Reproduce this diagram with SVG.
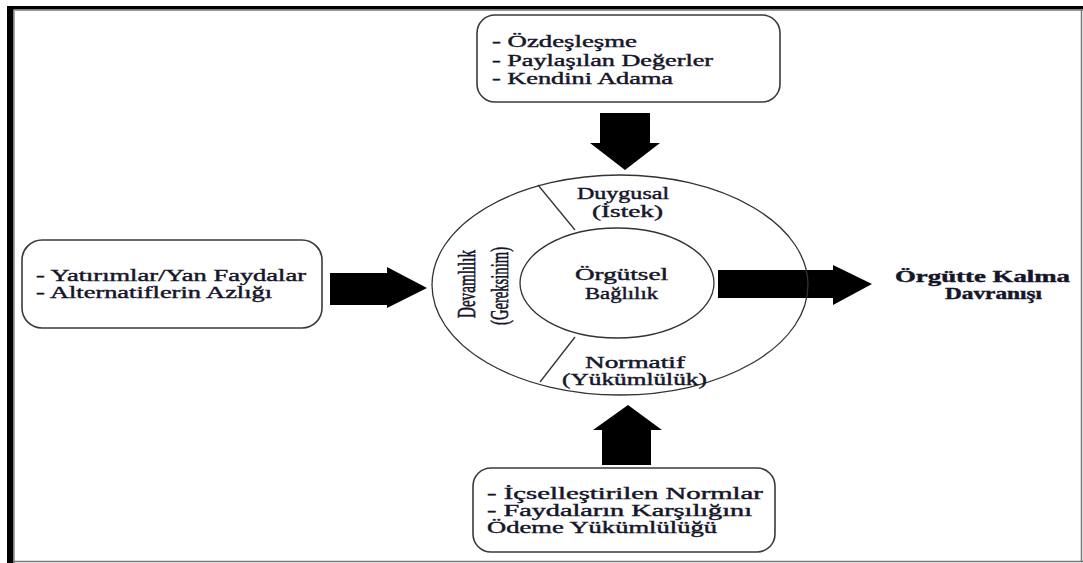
<svg xmlns="http://www.w3.org/2000/svg" width="1083" height="563" viewBox="0 0 1083 563">
<style>
.box{fill:#fff;stroke:#3a3a3a;stroke-width:1.6}
.ring{fill:none;stroke:#333;stroke-width:1.3}
.t{font-family:"Liberation Serif","Times New Roman",serif;font-size:16px;fill:#16162a;stroke:#16162a;stroke-width:0.4}
.b{font-weight:bold}
.arrow{fill:#000}
</style>
<rect x="0" y="0" width="1083" height="563" fill="#fff"/>
<g id="frame">
<rect x="7" y="6" width="1076" height="3.5" fill="#000"/>
<rect x="7" y="6" width="6.5" height="557" fill="#000"/>
<line x1="14" y1="10.5" x2="1083" y2="10.5" stroke="#999" stroke-width="1"/>
<line x1="14.5" y1="10" x2="14.5" y2="563" stroke="#aaa" stroke-width="1"/>
<line x1="1081.5" y1="10" x2="1081.5" y2="562" stroke="#777" stroke-width="1.5"/>
<line x1="13" y1="561.5" x2="1083" y2="561.5" stroke="#777" stroke-width="1.5"/>
</g>
<g id="connectors">
<polygon class="arrow" points="600,113 650,113 650,143 660,143 625,170 590,143 600,143"/>
<polygon class="arrow" points="330,273 387,273 387,267 427,288 387,308 387,305 330,305"/>
<polygon class="arrow" points="602,465 651,465 651,430 662,430 628,405 593,430 602,430"/>
<polygon class="arrow" points="718,270 833,270 833,265 872,284 833,305 833,298 718,298"/>
</g>
<g id="node-top">
<rect class="box" x="477" y="15" width="303" height="87" rx="18"/>
<text class="t" transform="translate(492,47) scale(1.55,1)" textLength="93.5" lengthAdjust="spacingAndGlyphs">- Özdeşleşme</text>
<text class="t" transform="translate(492,65.5) scale(1.55,1)" textLength="142.6" lengthAdjust="spacingAndGlyphs">- Paylaşılan Değerler</text>
<text class="t" transform="translate(492,84) scale(1.55,1)" textLength="116.8" lengthAdjust="spacingAndGlyphs">- Kendini Adama</text>
</g>
<g id="node-left">
<rect class="box" x="22" y="240" width="300" height="88" rx="20"/>
<text class="t" transform="translate(36,281) scale(1.55,1)" textLength="174.2" lengthAdjust="spacingAndGlyphs">- Yatırımlar/Yan Faydalar</text>
<text class="t" transform="translate(36,298) scale(1.55,1)" textLength="152.3" lengthAdjust="spacingAndGlyphs">- Alternatiflerin Azlığı</text>
</g>
<g id="node-bottom">
<rect class="box" x="473" y="468" width="302" height="84" rx="18"/>
<text class="t" transform="translate(487,499) scale(1.55,1)" textLength="178" lengthAdjust="spacingAndGlyphs">- İçselleştirilen Normlar</text>
<text class="t" transform="translate(487,516) scale(1.55,1)" textLength="171" lengthAdjust="spacingAndGlyphs">- Faydaların Karşılığını</text>
<text class="t" transform="translate(487,533) scale(1.55,1)" textLength="148.4" lengthAdjust="spacingAndGlyphs">Ödeme Yükümlülüğü</text>
</g>
<g id="node-commitment">
<ellipse class="ring" cx="620" cy="285" rx="188" ry="110"/>
<ellipse class="ring" cx="617" cy="283" rx="97" ry="55"/>
<line class="ring" x1="538" y1="185" x2="575" y2="230"/>
<line class="ring" x1="575" y1="337" x2="540" y2="382"/>
<text class="t" transform="translate(577,199) scale(1.55,1)" textLength="59.4" lengthAdjust="spacingAndGlyphs">Duygusal</text>
<text class="t" transform="translate(592,217) scale(1.55,1)" textLength="45.8" lengthAdjust="spacingAndGlyphs">(İstek)</text>
<text class="t" transform="translate(575,280) scale(1.55,1)" textLength="60" lengthAdjust="spacingAndGlyphs">Örgütsel</text>
<text class="t" transform="translate(585,299) scale(1.55,1)" textLength="47.1" lengthAdjust="spacingAndGlyphs">Bağlılık</text>
<text class="t" transform="translate(585,368) scale(1.55,1)" textLength="64.5" lengthAdjust="spacingAndGlyphs">Normatif</text>
<text class="t" transform="translate(562,385) scale(1.55,1)" textLength="93.5" lengthAdjust="spacingAndGlyphs">(Yükümlülük)</text>
<text class="t" text-anchor="middle" transform="translate(475,284) scale(1.55,1) rotate(-90)" textLength="68" lengthAdjust="spacingAndGlyphs">Devamlılık</text>
<text class="t" text-anchor="middle" transform="translate(508,286) scale(1.55,1) rotate(-90)" textLength="78" lengthAdjust="spacingAndGlyphs">(Gereksinim)</text>
</g>
<g id="node-outcome">
<text class="t b" transform="translate(895,282) scale(1.55,1)" textLength="112.9" lengthAdjust="spacingAndGlyphs">Örgütte Kalma</text>
<text class="t b" transform="translate(945,299) scale(1.55,1)" textLength="62.6" lengthAdjust="spacingAndGlyphs">Davranışı</text>
</g>
</svg>
